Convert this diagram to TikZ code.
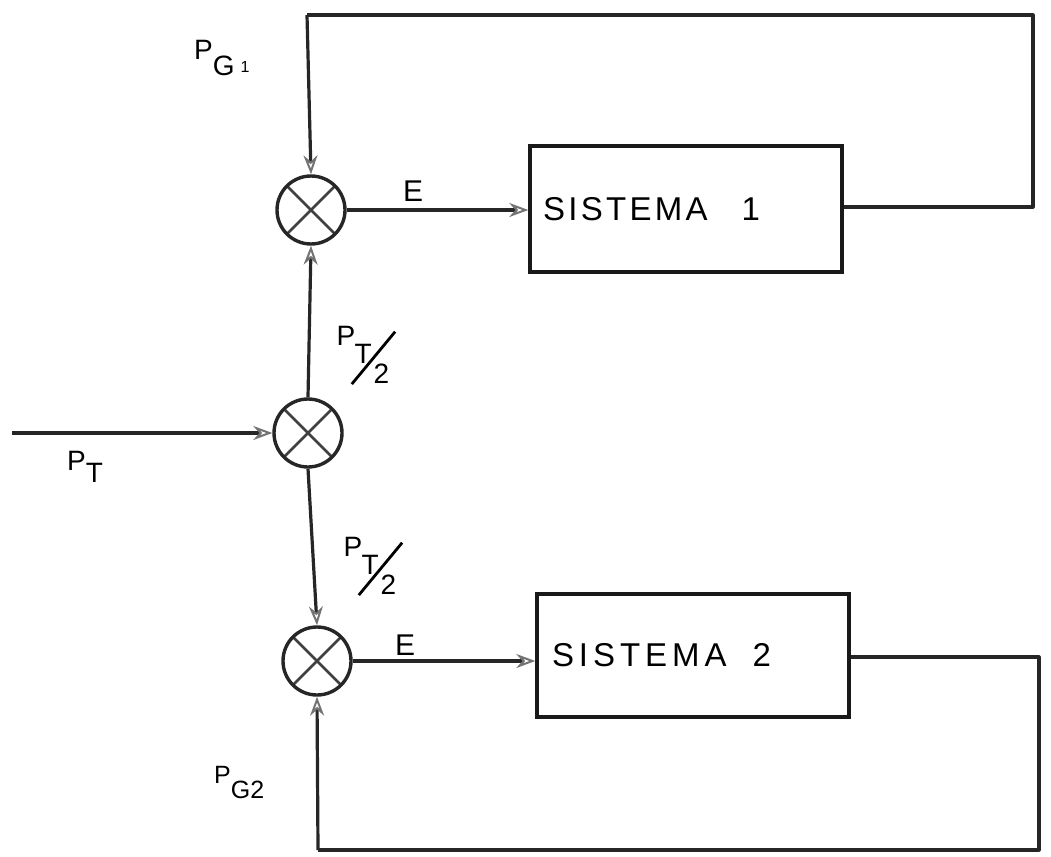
\documentclass[tikz,border=0pt]{standalone}
\usepackage{fontspec}
\setmainfont{Liberation Sans}
\usetikzlibrary{arrows.meta}
\newcommand{\lowr}[2]{\raisebox{#1}{#2}}
\newcommand{\halfPT}{\rlap{P}\rlap{\hspace{18pt}\raisebox{-18pt}{T}}\rlap{\hspace{37pt}\raisebox{-38pt}{2}}\rlap{\hspace{14pt}\raisebox{-40pt}{\rotatebox{50.4}{\rule{68pt}{2.8pt}}}}\hspace{58pt}}
\begin{document}
\begin{tikzpicture}[x=1pt,y=-1pt,
  line/.style={line width=3.2pt, draw=black!85},
  arr/.style={line, -{Stealth[open,length=19pt,width=14pt,line width=2pt,fill=white,color=black!55]}},
  sumnode/.style={circle, draw=black!85, line width=3.4pt, minimum size=68pt, inner sep=0pt,
    path picture={\draw[line width=2.6pt,black!75]
      (path picture bounding box.north west)--(path picture bounding box.south east)
      (path picture bounding box.north east)--(path picture bounding box.south west);}},
  block/.style={draw=black!90, line width=3.4pt, inner ysep=0pt, align=left},
  lbl/.style={font=\fontsize{28}{28}\selectfont, inner sep=0pt}
]
\useasboundingbox (0,0) rectangle (1051,856);

% summing junctions
\node[sumnode] (s1) at (311,210) {};
\node[sumnode] (s0) at (308,433) {};
\node[sumnode] (s2) at (317,661) {};

% blocks
\node[block, text width=286pt, inner xsep=13pt, minimum height=126pt,
  font=\fontsize{33}{33}\selectfont\addfontfeatures{LetterSpace=10}] (b1) at (686,209) {SISTEMA\hspace{34pt}1};
\node[block, text width=282pt, inner xsep=15pt, minimum height=123pt,
  font=\fontsize{33}{33}\selectfont\addfontfeatures{LetterSpace=15}] (b2) at (693,655.5) {SISTEMA\hspace{26pt}2};

% corner coordinates of feedback paths
\coordinate (in) at (12,433);
\coordinate (t1) at (1033,207);
\coordinate (t2) at (1033,15);
\coordinate (t3) at (307,15);
\coordinate (u1) at (1039,657);
\coordinate (u2) at (1039,850);
\coordinate (u3) at (318,850);

% connectors
\draw[arr] (in) -- (s0.west);
\draw[arr] (s0.north) -- (s1.south);
\draw[arr] (s0.south) -- (s2.north);
\draw[arr] (s1.east) -- (s1.east -| b1.west);
\draw[arr] (s2.east) -- (s2.east -| b2.west);
\draw[line, line join=round] (b1.east |- t1) -- (t1) -- (t2) -- (t3);
\draw[arr] (t3) -- (s1.north);
\draw[line, line join=round] (b2.east |- u1) -- (u1) -- (u2) -- (u3);
\draw[arr] (u3) -- (s2.south);

% labels
\node[lbl, anchor=base west] (lpg1) at (194,60) {P\lowr{-16pt}{G\hspace{6pt}\raisebox{3pt}{\fontsize{16}{16}\selectfont 1}}};
\node[lbl, font=\fontsize{30}{30}\selectfont] (le1) at (413,191) {E};
\node[lbl, font=\fontsize{30}{30}\selectfont] (le2) at (405,645) {E};
\node[lbl, anchor=base west] (lpt) at (67,470) {P\lowr{-12pt}{T}};
\node[lbl, anchor=base west] (lh1) at (336,345) {\halfPT};
\node[lbl, anchor=base west] (lh2) at (343,556) {\halfPT};
\node[lbl, font=\fontsize{25}{25}\selectfont, anchor=base west] (lpg2) at (214,783) {P\lowr{-15pt}{G2}};
\end{tikzpicture}
\end{document}
